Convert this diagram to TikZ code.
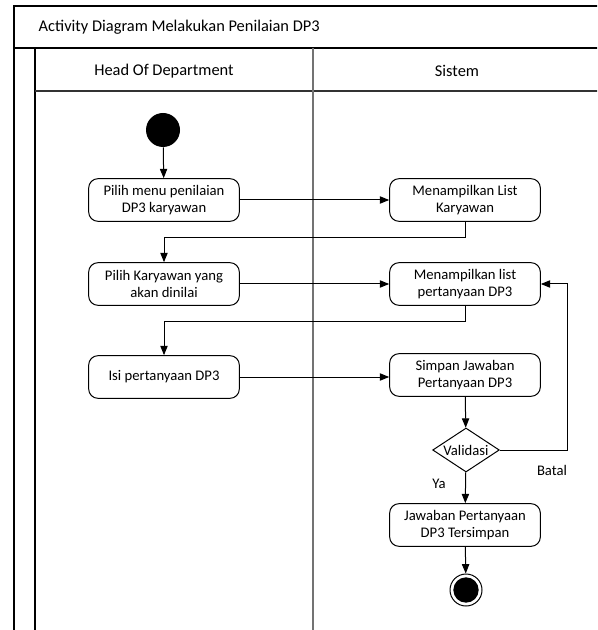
\documentclass[tikz,border=0pt]{standalone}
\usepackage{fontspec}
\setmainfont{Carlito}
\usetikzlibrary{arrows.meta,shapes.geometric,calc}
\begin{document}
\begin{tikzpicture}[x=0.75pt,y=-0.75pt,
  every node/.style={font=\fontsize{11}{13}\selectfont},
  act/.style={draw,line width=0.75pt,rounded corners=7pt,minimum width=113pt,
    minimum height=32pt,align=center,inner sep=2pt},
  decision/.style={draw,line width=0.75pt,diamond,aspect=1.5,inner sep=0pt,
    minimum width=50pt,minimum height=33pt},
  flow/.style={line width=0.75pt,-{Triangle[length=7pt,width=5.5pt]}},
  frame/.style={line width=1.1pt,black},
  lane/.style={line width=1.5pt,black!55},
  hdr/.style={font=\fontsize{12.3}{14}\selectfont}]
\useasboundingbox (0,0) rectangle (597,630);
\begin{scope}
\clip (0,0) rectangle (597,630);
% pool frame and title band
\draw[frame] (14,630) -- (14,6) -- (620,6);
\draw[frame] (14,48) -- (620,48);
% lanes
\draw[frame] (35,48) -- (35,630);
\draw[line width=1.1pt,black!80] (35,91) -- (620,91);
\draw[lane] (313,48) -- (313,630);
\end{scope}
\node[hdr,anchor=west] (title) at (34,27) {Activity Diagram Melakukan Penilaian DP3};
\node[hdr] (hod) at (164,71) {Head Of Department};
\node[hdr] (sys) at (457,71) {Sistem};

% activity nodes
\node[circle,fill=black,minimum size=25.5pt,inner sep=0pt] (start) at (163,130) {};
\node[act] (a1) at (164,200) {Pilih menu penilaian\\DP3 karyawan};
\node[act] (b1) at (465,200) {Menampilkan List\\Karyawan};
\node[act] (a2) at (164,284) {Pilih Karyawan yang\\akan dinilai};
\node[act] (b2) at (465,284) {Menampilkan list\\pertanyaan DP3};
\node[act] (a3) at (164,377) {Isi pertanyaan DP3};
\node[act] (b3) at (465,375) {Simpan Jawaban\\Pertanyaan DP3};
\node[decision,label=center:Validasi] (val) at (466,450) {};
\node[act] (b4) at (465,525) {Jawaban Pertanyaan\\DP3 Tersimpan};
\node[circle,draw,line width=0.75pt,minimum size=24pt,inner sep=0pt] (end) at (466,590) {};
\node[circle,fill=black,minimum size=19pt,inner sep=0pt] (endin) at (end) {};

% bend points
\coordinate (e1) at (164,238);
\coordinate (e2) at (164,321);
\coordinate (lp) at (567,284);

% connectors
\draw[flow] (start) -- (a1);
\draw[flow] (a1) -- (b1);
\draw[flow] (b1.south) |- (e1) -- (a2.north);
\draw[flow] (a2) -- (b2);
\draw[flow] (b2.south) |- (e2) -- (a3.north);
\draw[flow] (a3.east) -- (b3.west |- a3.east);
\draw[flow] (b3) -- (val);
\draw[flow] (val.east) -| (lp) -- (b2.east);
\draw[flow] (val) -- (b4);
\draw[flow] (b4) -- (end);

% guard labels
\node (ya) at (439,484) {Ya};
\node (batal) at (552,470) {Batal};
\end{tikzpicture}
\end{document}
